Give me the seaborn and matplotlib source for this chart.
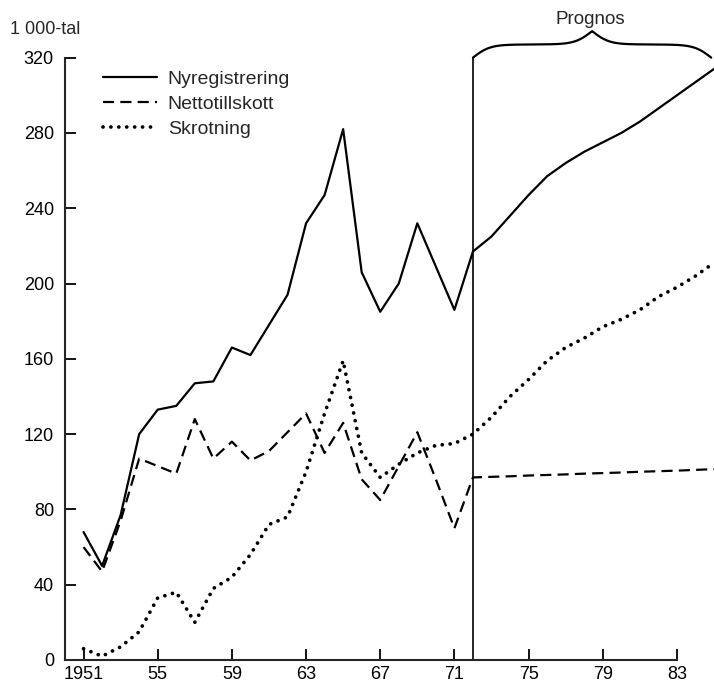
import matplotlib
matplotlib.use('Agg')
import matplotlib.pyplot as plt
import numpy as np
import pandas as pd
import seaborn as sns

# Years 1951-1985 (actual up to 1972, forecast after)
years = list(range(1951, 1986))
nyregistrering = [68, 50, 77, 120, 133, 135, 147, 148, 166, 162, 178, 194, 232, 247, 282,
                  206, 185, 200, 232, 209, 186, 217,
                  225, 236, 247, 257, 264, 270, 275, 280, 286, 293, 300, 307, 314]
nettotillskott = [60, 47, 74, 107, 103, 99, 128, 107, 116, 106, 111, 121, 131, 110, 126,
                  96, 85, 103, 121, 96, 70, 97,
                  97.3, 97.6, 98.0, 98.3, 98.6, 99.0, 99.3, 99.6, 100.0, 100.3, 100.6, 101.0, 101.4]
skrotning = [6, 2, 7, 15, 33, 36, 20, 38, 44, 56, 72, 76, 100, 131, 159,
             110, 97, 104, 110, 114, 115, 120,
             129, 140, 149, 159, 166, 171, 177, 181, 186, 193, 198, 204, 211]
prognos_start = 1972
prognos_end = 1985

y_ticks = [0, 40, 80, 120, 160, 200, 240, 280, 320]
x_ticks = [1951, 1955, 1959, 1963, 1967, 1971, 1975, 1979, 1983]
x_ticklabels = ['1951', '55', '59', '63', '67', '71', '75', '79', '83']

df = pd.DataFrame({'year': years, 'Nyregistrering': nyregistrering,
                   'Nettotillskott': nettotillskott, 'Skrotning': skrotning})

sns.set_style('ticks')
plt.rcParams['font.family'] = ['Liberation Sans', 'DejaVu Sans']

fig = plt.figure(figsize=(7.14, 6.85), dpi=100)
ax = fig.add_axes([65 / 714, 25 / 685, 1 - 65 / 714, 640 / 685])

sns.lineplot(data=df, x='year', y='Nyregistrering', ax=ax, color='black',
             linewidth=1.6, label='Nyregistrering')
sns.lineplot(data=df, x='year', y='Nettotillskott', ax=ax, color='black',
             linewidth=1.6, linestyle=(0, (5, 2.8)), label='Nettotillskott')
sns.lineplot(data=df, x='year', y='Skrotning', ax=ax, color='black',
             linewidth=2.7, linestyle=(0, (0.01, 2.1)), dash_capstyle='round',
             label='Skrotning')

# vertical line marking start of forecast
ax.vlines(prognos_start, 0, 320, color='black', linewidth=1.2)

# curly brace over the forecast period
def curly_brace(x0, x1, y0, h, n=600, beta=28.0):
    t = np.linspace(0, 0.5, n // 2)
    half = 1 / (1 + np.exp(-beta * (t - t[0]))) + 1 / (1 + np.exp(-beta * (t - t[-1])))
    yy = np.concatenate([half, half[::-1]])
    yy = y0 + (yy - yy.min()) / (yy.max() - yy.min()) * h
    xx = np.linspace(x0, x1, n)
    return xx, yy

bx, by = curly_brace(prognos_start, prognos_end - 0.15, 320, 14)
ax.plot(bx, by, color='black', linewidth=1.6, clip_on=False)
ax.text((prognos_start + prognos_end) / 2 - 0.15, 336, 'Prognos', ha='center',
        va='bottom', fontsize=13.5)

ax.set_xlim(1950, 1985)
ax.set_ylim(0, 340)
ax.set_xticks(x_ticks)
ax.set_xticklabels(x_ticklabels)
ax.set_yticks(y_ticks)
ax.set_xlabel('')
ax.set_ylabel('')
ax.tick_params(axis='both', direction='in', length=8, width=1.3, labelsize=13,
               colors='black')
ax.tick_params(axis='y', pad=8)
ax.tick_params(axis='x', pad=4)
for s in ['top', 'right']:
    ax.spines[s].set_visible(False)
ax.spines['left'].set_bounds(0, 320)
ax.spines['bottom'].set_bounds(1950, 1983)
ax.spines['left'].set_linewidth(1.5)
ax.spines['bottom'].set_linewidth(1.5)

ax.legend(loc='upper left', bbox_to_anchor=(0.043, 0.936), frameon=False,
          handlelength=2.8, handletextpad=0.55, labelspacing=0.36, borderpad=0,
          fontsize=14)

fig.text(10 / 714, 1 - 30 / 685, '1 000-tal', fontsize=13, va='center', ha='left')

fig.savefig('out.png', dpi=100)
